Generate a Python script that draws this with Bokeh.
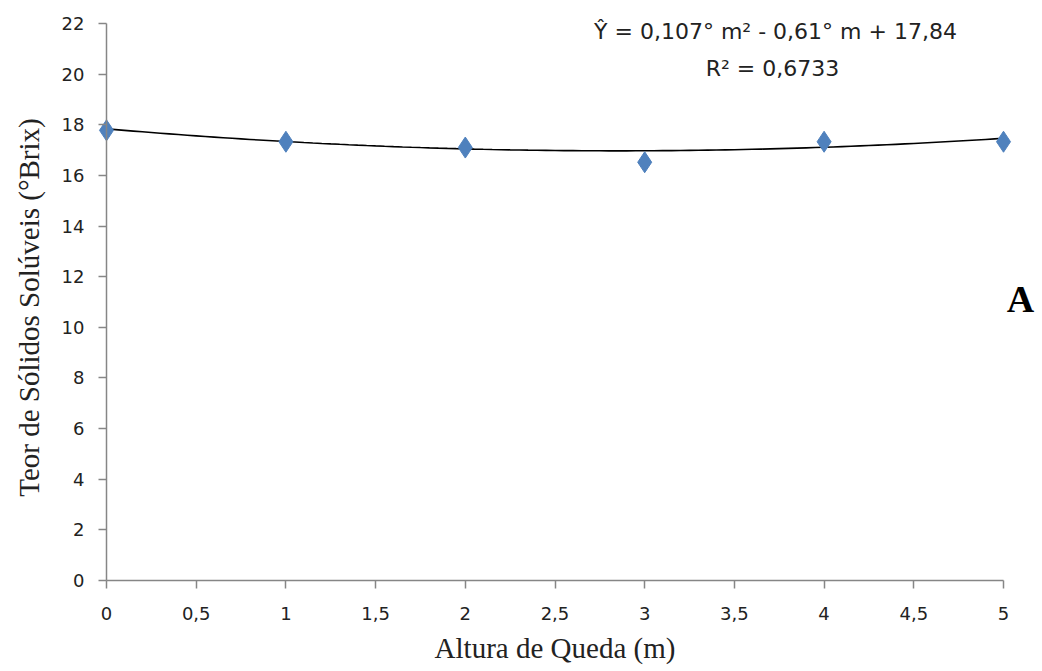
from bokeh.plotting import figure
from bokeh.models import FixedTicker, Label, ColumnDataSource
from bokeh.embed import file_html
from bokeh.resources import INLINE
import numpy as np

heights = [0, 1, 2, 3, 4, 5]
brix = [17.78, 17.33, 17.10, 16.52, 17.33, 17.33]
coef = [0.107, -0.61, 17.84]  # fitted quadratic from the chart's equation
x_ticks = [0, 0.5, 1, 1.5, 2, 2.5, 3, 3.5, 4, 4.5, 5]
x_tick_labels = ["0", "0,5", "1", "1,5", "2", "2,5", "3", "3,5", "4", "4,5", "5"]
y_ticks = [0, 2, 4, 6, 8, 10, 12, 14, 16, 18, 20, 22]

# layout (pixels): axis origin and extent inside the canvas
W, H = 1040, 670
X0_PX, X5_PX = 106, 1003
Y0_PX, Y22_PX = 580, 23
sx = (X5_PX - X0_PX) / 5.0
sy = (Y0_PX - Y22_PX) / 22.0
x_range = (-X0_PX / sx, 5 + (W - X5_PX) / sx)
y_range = (-(H - Y0_PX) / sy, 22 + Y22_PX / sy)

p = figure(width=W, height=H, output_backend="svg", toolbar_location=None,
           x_range=x_range, y_range=y_range,
           min_border_left=0, min_border_right=0, min_border_top=0,
           min_border_bottom=0)
p.outline_line_color = None
p.xgrid.grid_line_color = None
p.ygrid.grid_line_color = None

xs = np.linspace(0, 5, 101)
ys = np.polyval(coef, xs)
p.line(xs, ys, line_color="black", line_width=1.6)

src = ColumnDataSource(dict(x=heights, y=brix))
p.scatter("x", "y", source=src, marker="diamond", size=21, fill_color="#4F81BD",
          line_color="#4F81BD")

for ax in (p.xaxis, p.yaxis):
    ax.fixed_location = 0
    ax.axis_line_color = "#868686"
    ax.axis_line_width = 1.5
    ax.major_tick_line_color = "#868686"
    ax.major_tick_line_width = 1.5
    ax.major_tick_out = 8
    ax.major_tick_in = 0
    ax.minor_tick_line_color = None
    ax.major_label_text_font = "DejaVu Sans"
    ax.major_label_text_font_size = "18px"
    ax.major_label_text_color = "#222222"
    ax.axis_label_text_font = "Liberation Serif"
    ax.axis_label_text_font_size = "29px"
    ax.axis_label_text_font_style = "normal"
    ax.axis_label_text_color = "#222222"

p.xaxis.ticker = FixedTicker(ticks=x_ticks)
p.xaxis.bounds = (0, 5)
p.xaxis.major_label_overrides = {t: l for t, l in zip(x_ticks, x_tick_labels)}
p.xaxis.major_label_standoff = 18
p.xaxis.axis_label = "Altura de Queda (m)"
p.xaxis.axis_label_standoff = 9

p.yaxis.ticker = FixedTicker(ticks=y_ticks)
p.yaxis.bounds = (0, 22)
p.yaxis.major_label_standoff = 14

p.add_layout(Label(x=28, y=H - 307, x_units="screen", y_units="screen",
                   text="Teor de Sólidos Solúveis (°Brix)", angle=np.pi / 2,
                   text_font="Liberation Serif", text_font_size="29px",
                   text_color="#222222", text_baseline="middle", text_align="center"))
p.add_layout(Label(x=775, y=H - 31, x_units="screen", y_units="screen",
                   text="Ŷ = 0,107° m² - 0,61° m + 17,84", text_font="DejaVu Sans",
                   text_font_size="22px", text_color="#222222",
                   text_baseline="middle", text_align="center"))
p.add_layout(Label(x=772, y=H - 68, x_units="screen", y_units="screen",
                   text="R² = 0,6733", text_font="DejaVu Sans",
                   text_font_size="22px", text_color="#222222",
                   text_baseline="middle", text_align="center"))
p.add_layout(Label(x=1020, y=H - 298, x_units="screen", y_units="screen",
                   text="A", text_font="Liberation Serif", text_font_style="bold",
                   text_font_size="38px", text_color="black",
                   text_baseline="middle", text_align="center"))

open("out.html", "w").write(file_html(p, INLINE))
